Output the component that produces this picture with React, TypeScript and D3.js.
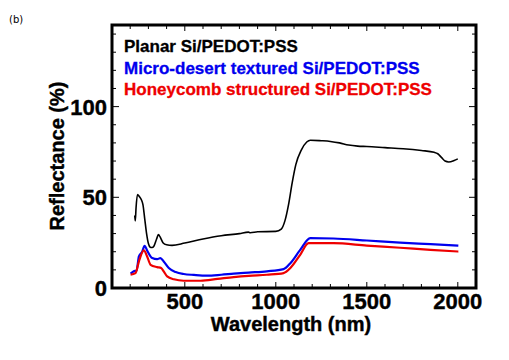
import React, { useEffect, useRef } from "react";
import * as d3 from "d3";

// wavelength (nm), reflectance (%)
const planarX = [225, 228, 232, 240, 250, 262, 270, 280, 290, 300, 310, 320, 330, 345, 355, 365, 380, 400, 430, 500, 600, 700, 800, 850, 860, 900, 1000, 1030, 1050, 1070, 1090, 1110, 1140, 1170, 1190, 1250, 1300, 1350, 1400, 1450, 1500, 1600, 1700, 1800, 1870, 1890, 1910, 1930, 1950, 1980, 2000];
const planarY = [40, 37, 44, 51.5, 50.5, 48.5, 46, 38, 30, 24.5, 22.5, 22.3, 23, 27, 29.5, 28, 25, 23.8, 23.5, 24.8, 27, 28.8, 30, 30.8, 30.5, 31, 31.2, 32.5, 37, 46, 58, 68, 76, 80.5, 81.5, 81.2, 80.8, 80, 78.8, 78.2, 78, 77.4, 76.8, 75.8, 74.8, 74, 72, 70, 69.5, 70.3, 71.2];

const desertX = [202, 220, 235, 248, 266, 279, 293, 321, 348, 366, 384, 412, 450, 494, 550, 622, 700, 769, 851, 951, 1043, 1080, 1134, 1189, 1317, 1500, 1683, 1850, 2003];
const desertY = [7.9, 9.2, 9.7, 17.4, 20, 23.3, 20.7, 16.5, 15.9, 16.5, 14.6, 11, 8.8, 7.7, 7.2, 6.8, 7.3, 7.9, 8.5, 9.2, 10.4, 13.7, 21, 27.5, 27.3, 26.2, 25, 24.2, 23.4];

const honeyX = [202, 229, 248, 275, 293, 312, 348, 370, 385, 403, 440, 494, 586, 680, 769, 851, 951, 1043, 1080, 1134, 1180, 1317, 1500, 1683, 1850, 2003];
const honeyY = [7.3, 8.2, 14.7, 20.7, 17.4, 12.8, 11.5, 11, 9, 6.4, 4.8, 4, 4, 5, 6, 6.7, 7.3, 8.2, 11, 18.3, 24.7, 24.7, 23.4, 22.2, 21, 20.1];

const xTicks = [500, 1000, 1500, 2000];
const yTicks = [0, 50, 100];
const legendLabels = ["Planar Si/PEDOT:PSS", "Micro-desert textured Si/PEDOT:PSS", "Honeycomb structured Si/PEDOT:PSS"];
const colors = ["#000000", "#0000ee", "#ee0000"];

const W = 509;
const H = 360;
const m = { left: 112, right: 33, top: 25, bottom: 72 };

const App = () => {
  const ref = useRef<SVGSVGElement>(null);

  useEffect(() => {
    const svg = d3.select(ref.current);
    svg.selectAll("*").remove();

    const x = d3.scaleLinear().domain([100, 2100]).range([m.left, W - m.right]);
    const y = d3.scaleLinear().domain([0, 145]).range([H - m.bottom, m.top]);
    const font = "'Liberation Sans', Arial, sans-serif";

    const series = [
      { xs: planarX, ys: planarY, w: 1.6 },
      { xs: desertX, ys: desertY, w: 2.2 },
      { xs: honeyX, ys: honeyY, w: 2.2 },
    ];

    const line = d3
      .line<[number, number]>()
      .x((d) => x(d[0]))
      .y((d) => y(d[1]))
      .curve(d3.curveMonotoneX);

    series.forEach((s, i) => {
      svg
        .append("path")
        .datum(s.xs.map((v, j) => [v, s.ys[j]] as [number, number]))
        .attr("d", line)
        .attr("fill", "none")
        .attr("stroke", colors[i])
        .attr("stroke-width", s.w);
    });

    // ticks, inward on all sides
    const x0 = x(100), x1 = x(2100), y0 = y(0), y1 = y(145);
    const g = svg.append("g").attr("stroke", "#000").attr("stroke-width", 1);
    d3.range(200, 2100, 100).forEach((v) => {
      const len = v % 500 === 0 ? 6 : 4;
      g.append("line").attr("x1", x(v)).attr("x2", x(v)).attr("y1", y0).attr("y2", y0 - len);
      g.append("line").attr("x1", x(v)).attr("x2", x(v)).attr("y1", y1).attr("y2", y1 + len);
    });
    d3.range(10, 145, 10).forEach((v) => {
      const len = v % 50 === 0 ? 7 : 4;
      g.append("line").attr("x1", x0).attr("x2", x0 + len).attr("y1", y(v)).attr("y2", y(v));
      g.append("line").attr("x1", x1).attr("x2", x1 - len).attr("y1", y(v)).attr("y2", y(v));
    });

    svg
      .append("rect")
      .attr("x", x0)
      .attr("y", y1)
      .attr("width", x1 - x0)
      .attr("height", y0 - y1)
      .attr("fill", "none")
      .attr("stroke", "#000")
      .attr("stroke-width", 3);

    svg
      .selectAll("text.xt")
      .data(xTicks)
      .enter()
      .append("text")
      .attr("x", (d) => x(d))
      .attr("y", 309)
      .attr("text-anchor", "middle")
      .attr("font-family", font)
      .attr("font-weight", "bold")
      .attr("font-size", 22)
      .attr("stroke", "#000")
      .attr("stroke-width", 0.4)
      .text((d) => d);

    svg
      .selectAll("text.yt")
      .data(yTicks)
      .enter()
      .append("text")
      .attr("x", 107)
      .attr("y", (d) => y(d) + 8)
      .attr("text-anchor", "end")
      .attr("font-family", font)
      .attr("font-weight", "bold")
      .attr("font-size", 22)
      .attr("stroke", "#000")
      .attr("stroke-width", 0.4)
      .text((d) => d);

    svg
      .append("text")
      .attr("x", 291)
      .attr("y", 331)
      .attr("text-anchor", "middle")
      .attr("font-family", font)
      .attr("font-weight", "bold")
      .attr("font-size", 20)
      .attr("stroke", "#000")
      .attr("stroke-width", 0.4)
      .text("Wavelength (nm)");

    svg
      .append("text")
      .attr("transform", "translate(64,156) rotate(-90)")
      .attr("text-anchor", "middle")
      .attr("font-family", font)
      .attr("font-weight", "bold")
      .attr("font-size", 20)
      .attr("stroke", "#000")
      .attr("stroke-width", 0.4)
      .text("Reflectance (%)");

    legendLabels.forEach((t, i) => {
      svg
        .append("text")
        .attr("x", 124)
        .attr("y", 52 + i * 21.5)
        .attr("fill", colors[i])
        .attr("stroke", colors[i])
        .attr("stroke-width", 0.3)
        .attr("font-family", font)
        .attr("font-weight", "bold")
        .attr("font-size", 17)
        .text(t);
    });

    svg
      .append("text")
      .attr("x", 9)
      .attr("y", 23)
      .attr("font-family", "'DejaVu Sans', sans-serif")
      .attr("font-size", 10)
      .text("(b)");
  }, []);

  return (
    <svg
      ref={ref}
      width={W}
      height={H}
      style={{ position: "absolute", left: 0, top: 0, background: "#fff" }}
    />
  );
};

export default App;
